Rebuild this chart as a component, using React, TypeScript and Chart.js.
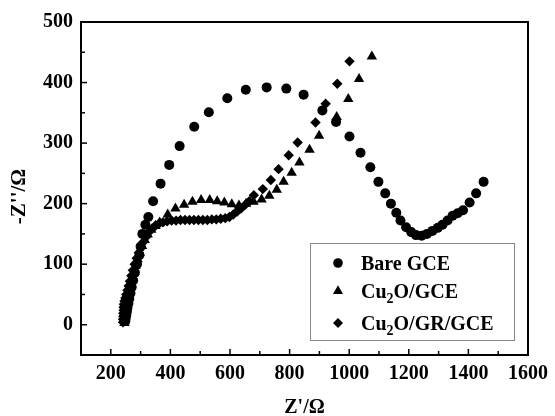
import React, { useEffect, useRef } from 'react';
import { Chart, registerables } from 'chart.js';

Chart.register(...registerables);

const FONT = "'Liberation Serif', 'Times New Roman', serif";

const bareX = [249, 250, 252, 254, 256, 259, 262, 266, 270, 275, 281, 288, 296, 300, 306, 316, 326, 342, 367, 396, 431, 480, 529, 591, 653, 723, 789, 847, 910, 956, 1001, 1038, 1071, 1098, 1121, 1140, 1158, 1172, 1191, 1208, 1224, 1243, 1261, 1279, 1297, 1313, 1330, 1347, 1364, 1382, 1404, 1426, 1451];
const bareY = [6, 11, 16, 22, 28, 35, 43, 52, 62, 73, 86, 100, 115, 129, 150, 165, 178, 204, 233, 264, 295, 327, 351, 374, 388, 392, 390, 380, 354, 335, 311, 284, 260, 236, 217, 200, 185, 172, 161, 153, 148, 147, 150, 155, 160, 165, 172, 180, 184, 189, 202, 217, 236];

const cuX = [246, 247, 248, 249, 250, 251, 253, 255, 258, 261, 264, 268, 272, 277, 283, 290, 297, 305, 314, 324, 336, 350, 364, 391, 417, 446, 474, 503, 532, 557, 581, 606, 630, 654, 679, 706, 732, 757, 780, 807, 833, 867, 899, 958, 997, 1033, 1076];
const cuY = [3, 8, 13, 18, 23, 28, 33, 39, 45, 52, 59, 67, 76, 86, 97, 108, 119, 130, 140, 149, 157, 163, 169, 182, 192, 198, 203, 206, 206, 204, 202, 199, 197, 200, 203, 207, 213, 223, 236, 251, 268, 289, 312, 343, 373, 406, 443];

const grX = [241, 241, 242, 242, 243, 243, 244, 246, 249, 252, 256, 260, 264, 269, 274, 280, 287, 294, 302, 310, 318, 328, 339, 350, 362, 375, 389, 404, 419, 434, 449, 464, 479, 494, 509, 524, 539, 554, 569, 584, 598, 611, 624, 637, 651, 665, 680, 710, 737, 763, 797, 827, 887, 921, 960, 1001];
const grY = [4, 9, 14, 19, 24, 29, 34, 39, 44, 50, 57, 64, 72, 81, 90, 100, 110, 119, 128, 137, 145, 153, 159, 164, 167, 169, 171, 172, 172, 173, 173, 173, 173, 173, 173, 173, 174, 174, 175, 176, 178, 182, 187, 192, 198, 204, 214, 224, 239, 257, 280, 301, 334, 365, 398, 435];

const xTitle = "Z'/Ω";
const yTitle = "-Z''/Ω";
const legendLabels = [
  ['Bare GCE'],
  ['Cu', '2', 'O/GCE'],
  ['Cu', '2', 'O/GR/GCE'],
];
const legendStyles = ['circle', 'triangle', 'diamond'];

const toPoints = (xs: number[], ys: number[]) => xs.map((v, i) => ({ x: v, y: ys[i] }));

function drawMarker(ctx: CanvasRenderingContext2D, style: string, x: number, y: number) {
  ctx.beginPath();
  if (style === 'circle') {
    ctx.arc(x, y, 4.8, 0, Math.PI * 2);
  } else if (style === 'triangle') {
    ctx.moveTo(x, y - 5.8);
    ctx.lineTo(x + 5, y + 3);
    ctx.lineTo(x - 5, y + 3);
    ctx.closePath();
  } else {
    ctx.moveTo(x, y - 5);
    ctx.lineTo(x + 5, y);
    ctx.lineTo(x, y + 5);
    ctx.lineTo(x - 5, y);
    ctx.closePath();
  }
  ctx.fill();
}

const decor = {
  id: 'decor',
  afterDraw(chart: any) {
    const { ctx, chartArea: a } = chart;
    const xs = chart.scales.x;
    const ys = chart.scales.y;
    ctx.save();
    ctx.strokeStyle = '#000';
    ctx.fillStyle = '#000';
    ctx.lineWidth = 1.5;
    xs.ticks.forEach((t: any) => {
      const px = xs.getPixelForValue(t.value);
      if (px <= a.left + 1 || px >= a.right - 1) return;
      const len = t.value % 200 === 0 ? 6 : 4;
      ctx.beginPath();
      ctx.moveTo(px, a.bottom);
      ctx.lineTo(px, a.bottom - len);
      ctx.stroke();
    });
    ys.ticks.forEach((t: any) => {
      const py = ys.getPixelForValue(t.value);
      if (py <= a.top + 1 || py >= a.bottom - 1) return;
      const len = t.value % 100 === 0 ? 6 : 4;
      ctx.beginPath();
      ctx.moveTo(a.left, py);
      ctx.lineTo(a.left + len, py);
      ctx.stroke();
    });
    ctx.lineWidth = 2;
    ctx.strokeRect(a.left, a.top, a.right - a.left, a.bottom - a.top);

    // axis titles
    ctx.font = `bold 20px ${FONT}`;
    ctx.textAlign = 'center';
    ctx.textBaseline = 'middle';
    ctx.fillText(xTitle, (a.left + a.right) / 2, a.bottom + 53);
    ctx.save();
    ctx.translate(20, (a.top + a.bottom) / 2 + 8);
    ctx.rotate(-Math.PI / 2);
    ctx.font = `bold 21px ${FONT}`;
    ctx.fillText(yTitle, 0, 0);
    ctx.restore();

    // legend
    const bx = a.right - 218;
    const by = a.bottom - 112;
    ctx.lineWidth = 1;
    ctx.strokeStyle = '#8a8a8a';
    ctx.strokeRect(bx + 0.5, by + 0.5, 204, 97);
    const rowY = [by + 20, by + 48, by + 80];
    ctx.textAlign = 'left';
    ctx.textBaseline = 'alphabetic';
    legendLabels.forEach((parts, i) => {
      ctx.fillStyle = '#000';
      drawMarker(ctx, legendStyles[i], bx + 28, rowY[i]);
      let tx = bx + 51;
      const base = rowY[i] + 7;
      parts.forEach((p, j) => {
        const sub = parts.length === 3 && j === 1;
        ctx.font = sub ? `bold 14px ${FONT}` : `bold 20px ${FONT}`;
        ctx.fillText(p, tx, sub ? base + 5 : base);
        tx += ctx.measureText(p).width;
      });
    });
    ctx.restore();
  },
};

export default function App() {
  const ref = useRef<HTMLCanvasElement>(null);
  useEffect(() => {
    if (!ref.current) return;
    const tickFont = { family: FONT, size: 20, weight: 'bold' as const };
    const chart = new Chart(ref.current, {
      type: 'scatter',
      data: {
        datasets: [
          { label: 'Bare GCE', data: toPoints(bareX, bareY), pointStyle: 'circle', pointRadius: 5, backgroundColor: '#000', borderColor: '#000', borderWidth: 0, order: 3 },
          { label: 'Cu2O/GCE', data: toPoints(cuX, cuY), pointStyle: 'triangle', pointRadius: 6, backgroundColor: '#000', borderColor: '#000', borderWidth: 0, order: 2 },
          { label: 'Cu2O/GR/GCE', data: toPoints(grX, grY), pointStyle: 'rectRot', pointRadius: 5.2, backgroundColor: '#000', borderColor: '#000', borderWidth: 0, order: 1 },
        ],
      },
      options: {
        animation: false,
        responsive: false,
        layout: { padding: { top: 22, right: 25, left: 0, bottom: 0 } },
        plugins: { legend: { display: false }, tooltip: { enabled: false } },
        scales: {
          x: {
            type: 'linear',
            min: 100,
            max: 1600,
            afterFit: (s: any) => { s.height = 61; },
            grid: { display: false, drawTicks: false },
            border: { display: false },
            ticks: {
              stepSize: 100,
              autoSkip: false,
              maxRotation: 0,
              padding: 7,
              color: '#000',
              font: tickFont,
              callback: (v: any) => (v % 200 === 0 ? String(v) : ''),
            },
          },
          y: {
            type: 'linear',
            min: -50,
            max: 500,
            afterFit: (s: any) => { s.width = 81; },
            grid: { display: false, drawTicks: false },
            border: { display: false },
            ticks: {
              stepSize: 50,
              autoSkip: false,
              padding: 8,
              color: '#000',
              font: tickFont,
              callback: (v: any) => (v % 100 === 0 ? String(v) : ''),
            },
          },
        },
      },
      plugins: [decor],
    });
    return () => chart.destroy();
  }, []);
  return (
    <div style={{ position: 'absolute', left: 0, top: 0, width: 555, height: 416, background: '#fff' }}>
      <canvas ref={ref} width={555} height={416} style={{ display: 'block' }} />
    </div>
  );
}
